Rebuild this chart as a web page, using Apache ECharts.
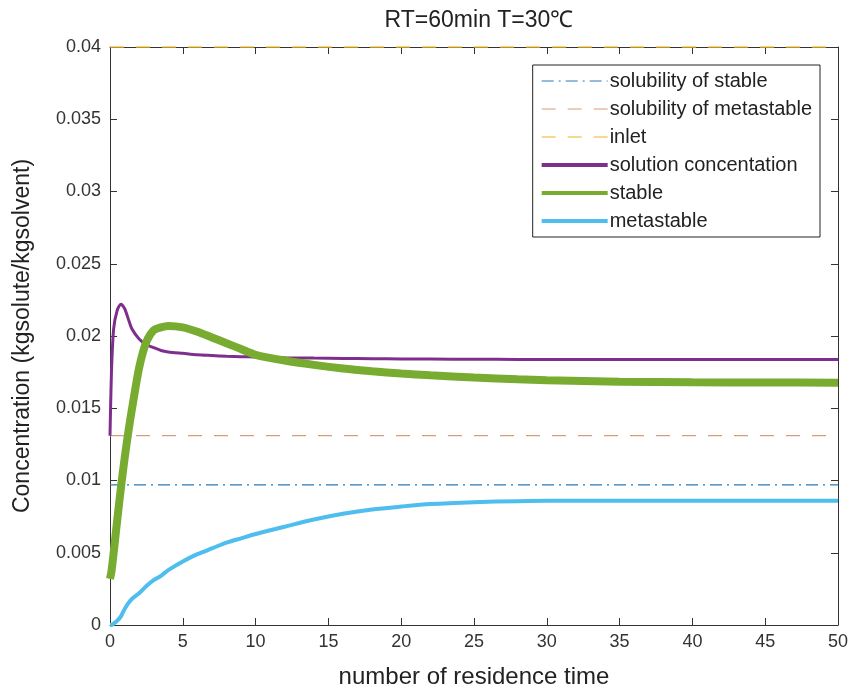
<!DOCTYPE html>
<html>
<head>
    <meta charset="utf-8">
    <title>RT=60min T=30℃</title>
    <script src="https://cdn.jsdelivr.net/npm/echarts@6/dist/echarts.min.js"></script>
    <style>
        html, body { margin: 0; padding: 0; background: #fff; }
        #chart { width: 855px; height: 690px; }
    </style>
</head>
<body>
    <div id="chart"></div>
    <script>
        // residence time (x) and the curves
        var residenceTime = [0, 0.1, 0.25, 0.5, 0.75, 1, 1.25, 1.5, 2, 2.5, 3, 3.5, 4, 5, 6, 7, 8, 9, 10,
            12, 14, 16, 18, 20, 22, 25, 28, 30, 35, 40, 45, 50];
        var solutionConc = [0.0131, 0.0175, 0.0205, 0.0218, 0.0222, 0.0219, 0.0212, 0.0205, 0.0198, 0.0194,
            0.0192, 0.0190, 0.0189, 0.0188, 0.0187, 0.01865, 0.0186, 0.01857, 0.01855,
            0.0185, 0.01847, 0.01845, 0.01843, 0.01841, 0.0184, 0.01839, 0.01838, 0.01838,
            0.01837, 0.01837, 0.01837, 0.01837];
        var stableConc = [0.0032, 0.0037, 0.0050, 0.0073, 0.0095, 0.0115, 0.0133, 0.0149, 0.0178, 0.0196,
            0.0204, 0.0206, 0.0207, 0.0206, 0.0203, 0.0199, 0.0195, 0.0191, 0.0187,
            0.0183, 0.0180, 0.01775, 0.01756, 0.0174, 0.01728, 0.01713, 0.0170, 0.01694,
            0.01684, 0.0168, 0.01678, 0.01677];
        var metastableConc = [0, 0, 0.0001, 0.0003, 0.0006, 0.0011, 0.0015, 0.0018, 0.0022, 0.0027,
            0.0031, 0.0034, 0.0038, 0.0044, 0.0049, 0.0053, 0.0057, 0.0060, 0.0063,
            0.0068, 0.0073, 0.0077, 0.0080, 0.0082, 0.00837, 0.0085, 0.00857, 0.0086,
            0.0086, 0.0086, 0.0086, 0.0086];
        var solubilityStable = 0.0097;
        var solubilityMetastable = 0.0131;
        var inletConc = 0.04;
        var legendNames = ['solubility of stable', 'solubility of metastable', 'inlet',
            'solution concentation', 'stable', 'metastable'];

        function pairs(xs, ys) {
            return xs.map(function (x, i) { return [x, ys[i]]; });
        }
        function flat(v) {
            return [[0, v], [50, v]];
        }

        var chart = echarts.init(document.getElementById('chart'));
        var font = '"Liberation Sans", Arial, sans-serif';
        var axisColor = '#333';
        var hideSymbol = { opacity: 0 };

        var option = {
            animation: false,
            textStyle: { fontFamily: font },
            title: {
                text: 'RT=60min T=30℃',
                left: 474,
                textAlign: 'center',
                top: 4,
                textStyle: { fontSize: 23, fontWeight: 'normal', color: '#222', fontFamily: font }
            },
            grid: { left: 110, right: 17, top: 47, bottom: 65, show: false, outerBoundsMode: 'none' },
            legend: {
                orient: 'vertical',
                right: 35,
                top: 65,
                padding: [6, 8, 6, 7],
                itemWidth: 66,
                itemHeight: 14,
                itemGap: 8,
                borderColor: '#222',
                borderWidth: 1,
                backgroundColor: '#fff',
                itemStyle: hideSymbol,
                textStyle: { fontSize: 20, lineHeight: 20, color: '#222', fontFamily: font, padding: [0, 0, 0, -3] },
                data: [
                    { name: legendNames[0], lineStyle: { width: 1.2 } },
                    { name: legendNames[1], lineStyle: { width: 1.2 } },
                    { name: legendNames[2], lineStyle: { width: 1.2 } },
                    { name: legendNames[3], lineStyle: { width: 4 } },
                    { name: legendNames[4], lineStyle: { width: 4 } },
                    { name: legendNames[5], lineStyle: { width: 4 } }
                ]
            },
            xAxis: [{
                type: 'value',
                min: 0, max: 50, interval: 5,
                name: 'number of residence time',
                nameLocation: 'middle',
                nameGap: 40,
                nameTextStyle: { fontSize: 24, color: '#222' },
                axisLine: { lineStyle: { color: axisColor } },
                axisTick: { inside: true, length: 7, lineStyle: { color: axisColor } },
                axisLabel: { fontSize: 18, color: '#333', margin: 8 },
                splitLine: { show: false }
            }, {
                type: 'value',
                position: 'top',
                min: 0, max: 50, interval: 5,
                axisLine: { show: true, onZero: false, lineStyle: { color: axisColor } },
                axisTick: { show: true, inside: true, length: 7, lineStyle: { color: axisColor } },
                axisLabel: { show: false },
                splitLine: { show: false }
            }],
            yAxis: [{
                type: 'value',
                min: 0, max: 0.04, interval: 0.005,
                name: 'Concentration (kgsolute/kgsolvent)',
                nameLocation: 'middle',
                nameGap: 76,
                nameTextStyle: { fontSize: 23, color: '#222' },
                axisLine: { show: true, onZero: false, lineStyle: { color: axisColor } },
                axisTick: { show: true, inside: true, length: 7, lineStyle: { color: axisColor } },
                axisLabel: { fontSize: 18, color: '#333', margin: 9 },
                splitLine: { show: false }
            }, {
                type: 'value',
                position: 'right',
                min: 0, max: 0.04, interval: 0.005,
                axisLine: { show: true, onZero: false, lineStyle: { color: axisColor } },
                axisTick: { show: true, inside: true, length: 7, lineStyle: { color: axisColor } },
                axisLabel: { show: false },
                splitLine: { show: false }
            }],
            series: [{
                name: legendNames[0],
                type: 'line',
                symbol: 'none',
                data: flat(solubilityStable),
                lineStyle: { color: '#2f78b5', width: 1.2, type: [12, 5, 2, 5] },
                itemStyle: { color: '#2f78b5' }
            }, {
                name: legendNames[1],
                type: 'line',
                symbol: 'none',
                data: flat(solubilityMetastable),
                lineStyle: { color: '#dc9a78', width: 1.3, type: [14, 12] },
                itemStyle: { color: '#dc9a78' }
            }, {
                name: legendNames[2],
                type: 'line',
                symbol: 'none',
                data: flat(inletConc),
                lineStyle: { color: '#EDB120', width: 1.3, type: [14, 12] },
                itemStyle: { color: '#EDB120' },
                z: 5
            }, {
                name: legendNames[3],
                type: 'line',
                symbol: 'none',
                smooth: 0.25,
                data: pairs(residenceTime, solutionConc),
                lineStyle: { color: '#7E2F8E', width: 3 },
                itemStyle: { color: '#7E2F8E' }
            }, {
                name: legendNames[4],
                type: 'line',
                symbol: 'none',
                smooth: 0.25,
                data: pairs(residenceTime, stableConc),
                lineStyle: { color: '#77AC30', width: 8 },
                itemStyle: { color: '#77AC30' }
            }, {
                name: legendNames[5],
                type: 'line',
                symbol: 'none',
                smooth: 0.25,
                data: pairs(residenceTime, metastableConc),
                lineStyle: { color: '#4DBEEE', width: 4 },
                itemStyle: { color: '#4DBEEE' }
            }]
        };

        chart.setOption(option);
    </script>
</body>
</html>
